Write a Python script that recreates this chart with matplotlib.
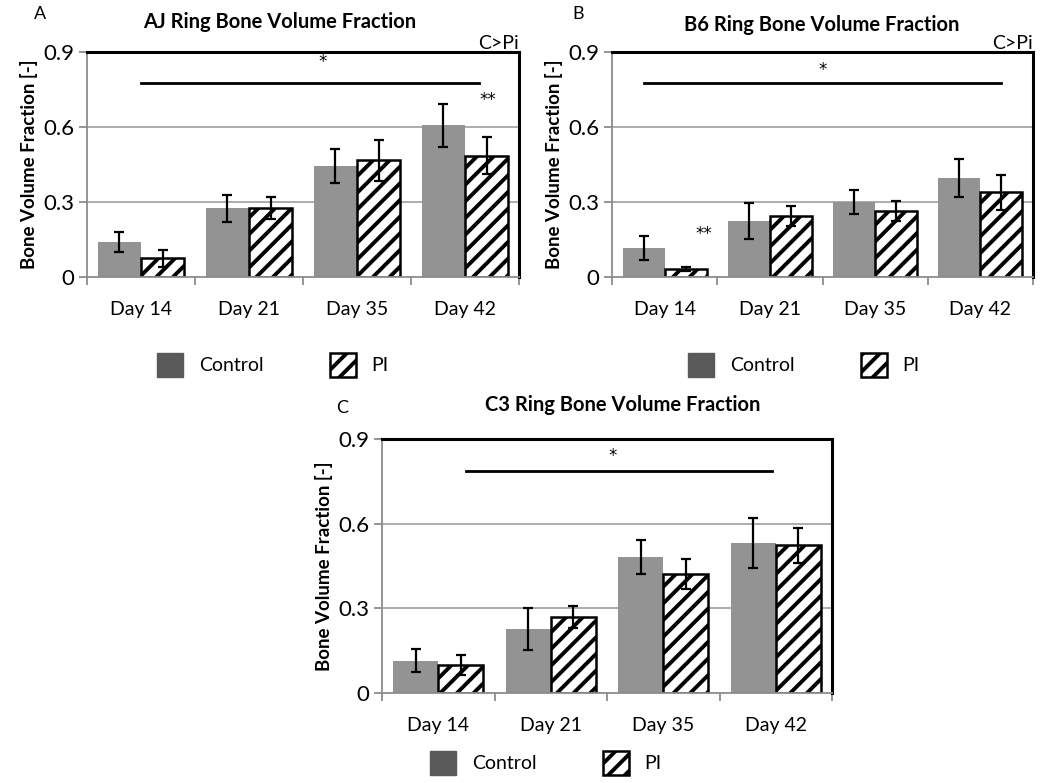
import numpy as np
import matplotlib
matplotlib.use("Agg")
import matplotlib.pyplot as plt
from matplotlib.patches import Patch

plt.rcParams['font.family'] = ['Lato', 'DejaVu Sans']
plt.rcParams['hatch.linewidth'] = 2.8

days = ['Day 14', 'Day 21', 'Day 35', 'Day 42']

aj_control = [0.14, 0.275, 0.445, 0.607]
aj_control_err = [0.04, 0.055, 0.067, 0.085]
aj_pi = [0.075, 0.277, 0.467, 0.486]
aj_pi_err = [0.035, 0.045, 0.082, 0.074]

b6_control = [0.117, 0.225, 0.30, 0.396]
b6_control_err = [0.048, 0.073, 0.048, 0.075]
b6_pi = [0.033, 0.243, 0.263, 0.34]
b6_pi_err = [0.008, 0.04, 0.04, 0.07]

c3_control = [0.115, 0.226, 0.481, 0.531]
c3_control_err = [0.04, 0.075, 0.06, 0.088]
c3_pi = [0.10, 0.27, 0.422, 0.524]
c3_pi_err = [0.035, 0.04, 0.053, 0.062]

W, H = 1055, 783
fig = plt.figure(figsize=(W / 100, H / 100), dpi=100)

BAR_GREY = '#939393'
AXIS_GREY = '#8c8c8c'
STAR_FONT = ['DejaVu Sans']


def px_axes(left, top, right, bottom):
    return fig.add_axes([left / W, 1 - bottom / H, (right - left) / W, (bottom - top) / H])


def draw_panel(ax, ctrl, ctrl_err, pi, pi_err):
    x = np.arange(len(days))
    w = 0.4
    for yv in (0.3, 0.6):
        ax.axhline(yv, color='#a6a6a6', lw=1.3, zorder=0)
    ax.bar(x - w / 2, ctrl, w, color=BAR_GREY, zorder=2)
    ax.bar(x + w / 2, pi, w, color='white', edgecolor='black', hatch='//', lw=1.8, zorder=2)
    ax.errorbar(x - w / 2, ctrl, yerr=ctrl_err, fmt='none', ecolor='black',
                elinewidth=1.6, capsize=3.5, capthick=1.6, zorder=3)
    ax.errorbar(x + w / 2, pi, yerr=pi_err, fmt='none', ecolor='black',
                elinewidth=1.6, capsize=3.5, capthick=1.6, zorder=3)
    ax.set_xlim(-0.5, 3.5)
    ax.set_ylim(0, 0.9)
    ax.set_yticks([0, 0.3, 0.6, 0.9])
    ax.set_yticklabels(['0', '0.3', '0.6', '0.9'], fontsize=16)
    ax.set_xticks(x)
    ax.set_xticklabels(days, fontsize=14)
    ax.set_xticks(np.arange(-0.5, 4, 1), minor=True)
    ax.tick_params(axis='x', which='major', length=0, pad=17)
    ax.tick_params(axis='x', which='minor', length=6, color=AXIS_GREY, width=1.3)
    ax.tick_params(axis='y', length=6, color=AXIS_GREY, width=1.3, pad=3)
    for s in ('left', 'bottom'):
        ax.spines[s].set_color(AXIS_GREY)
        ax.spines[s].set_linewidth(1.3)
    for s in ('top', 'right'):
        ax.spines[s].set_color('black')
        ax.spines[s].set_linewidth(2.2)
    ax.set_ylabel('Bone Volume Fraction [-]', fontsize=13.5, fontweight='bold', labelpad=4)


def star(ax, x, y, s):
    ax.text(x, y, s, ha='center', va='center', fontsize=12, family=STAR_FONT)


def legend_at(left, ycen):
    handles = [Patch(facecolor='#595959', edgecolor='#595959'),
               Patch(facecolor='white', edgecolor='black', hatch='//', lw=1.8)]
    fig.legend(handles, ['Control', 'PI'], loc='center left',
               bbox_to_anchor=(left / W, 1 - ycen / H), ncol=2, frameon=False,
               fontsize=14, handlelength=1.35, handleheight=1.5, handletextpad=0.8,
               columnspacing=3.4, borderpad=0, borderaxespad=0)


# A: AJ
ax_a = px_axes(87, 52, 519, 277)
draw_panel(ax_a, aj_control, aj_control_err, aj_pi, aj_pi_err)
ax_a.plot([0.0, 3.13], [0.775, 0.775], color='black', lw=2)
star(ax_a, 1.68, 0.86, '*')
star(ax_a, 3.21, 0.71, '**')
ax_a.text(1.0, 1.0, 'C>Pi', transform=ax_a.transAxes, ha='right', va='bottom', fontsize=14)
fig.text(280 / W, 1 - 22 / H, 'AJ Ring Bone Volume Fraction', ha='center', va='center',
         fontsize=14.5, fontweight='bold')
fig.text(40 / W, 1 - 14 / H, 'A', ha='center', va='center', fontsize=13)
legend_at(157, 365)

# B: B6
ax_b = px_axes(612, 52, 1033, 277)
draw_panel(ax_b, b6_control, b6_control_err, b6_pi, b6_pi_err)
ax_b.plot([-0.2, 3.2], [0.777, 0.777], color='black', lw=2)
star(ax_b, 1.5, 0.83, '*')
star(ax_b, 0.37, 0.17, '**')
ax_b.text(1.0, 1.0, 'C>Pi', transform=ax_b.transAxes, ha='right', va='bottom', fontsize=14)
fig.text(822 / W, 1 - 25 / H, 'B6 Ring Bone Volume Fraction', ha='center', va='center',
         fontsize=14.5, fontweight='bold')
fig.text(578 / W, 1 - 14 / H, 'B', ha='center', va='center', fontsize=13)
legend_at(688, 365)

# C: C3
ax_c = px_axes(382, 439, 832, 693)
draw_panel(ax_c, c3_control, c3_control_err, c3_pi, c3_pi_err)
ax_c.plot([0.25, 2.97], [0.787, 0.787], color='black', lw=2)
star(ax_c, 1.55, 0.84, '*')
fig.text(623 / W, 1 - 405 / H, 'C3 Ring Bone Volume Fraction', ha='center', va='center',
         fontsize=14.5, fontweight='bold')
fig.text(342 / W, 1 - 408 / H, 'C', ha='center', va='center', fontsize=13)
legend_at(430, 763)

fig.savefig('out.png', dpi=100)
